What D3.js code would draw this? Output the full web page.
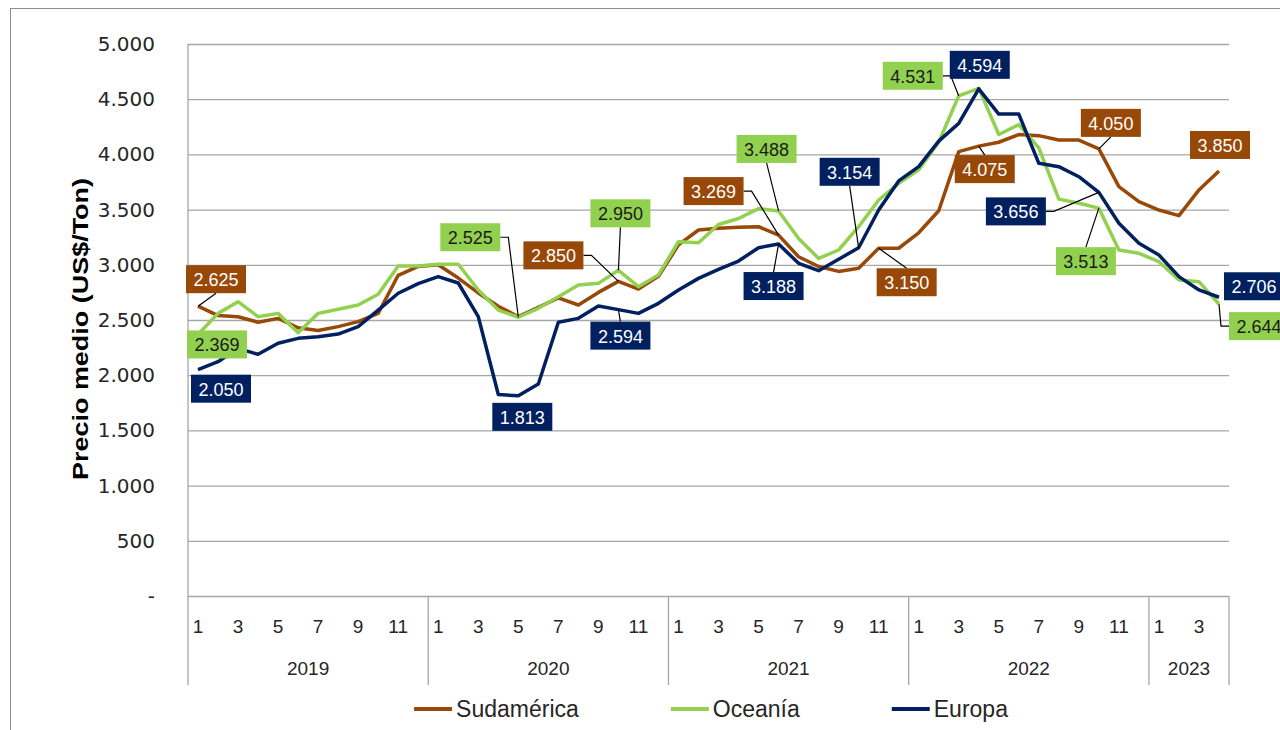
<!DOCTYPE html>
<html>
<head>
<meta charset="utf-8">
<script src="https://cdn.jsdelivr.net/npm/d3@7"></script>
<style>
body { margin: 0; background: #fff; }
</style>
</head>
<body>
<script>
// data
var years = [2019, 2020, 2021, 2022, 2023];
var monthsPerYear = [12, 12, 12, 12, 4];
var seriesNames = ["Sudamérica", "Oceanía", "Europa"];
var seriesColors = ["#984807", "#92D050", "#002060"];
var labelTextColors = ["#ffffff", "#1a1a1a", "#ffffff"];

var sudamerica = [2625, 2540, 2530, 2480, 2515, 2430, 2405, 2440, 2485, 2560, 2905, 2985,
                  3000, 2880, 2745, 2625, 2530, 2615, 2700, 2636, 2750, 2850, 2780, 2895,
                  3180, 3315, 3330, 3340, 3345, 3269, 3073, 2985, 2940, 2968, 3150, 3150,
                  3290, 3490, 4025, 4075, 4110, 4180, 4170, 4130, 4130, 4050, 3708, 3572,
                  3496, 3445, 3678, 3850];
var oceania = [2369, 2560, 2666, 2530, 2560, 2385, 2560, 2597, 2636, 2733, 2990, 2990,
               3005, 3005, 2772, 2590, 2525, 2606, 2710, 2817, 2832, 2950, 2802, 2908,
               3209, 3200, 3365, 3419, 3509, 3488, 3239, 3058, 3134, 3345, 3587, 3738,
               3860, 4110, 4531, 4598, 4180, 4270, 4060, 3595, 3557, 3513, 3134, 3104,
               3028, 2862, 2847, 2644];
var europa = [2050, 2122, 2243, 2189, 2289, 2334, 2349, 2373, 2440, 2590, 2742, 2830,
              2893, 2835, 2530, 1825, 1813, 1920, 2480, 2515, 2627, 2594, 2560, 2651,
              2772, 2877, 2959, 3034, 3155, 3188, 3013, 2947, 3050, 3154, 3496, 3760,
              3889, 4120, 4281, 4594, 4365, 4365, 3919, 3889, 3798, 3656, 3376, 3195,
              3089, 2893, 2772, 2706];
var seriesData = [sudamerica, oceania, europa];
var yTicks = d3.range(0, 5001, 500);

// data labels: series index, point index, box offset from point, leader line
var annotations = [
    {s: 0, i: 0,  dx: 18,  dy: -27, leader: true},
    {s: 1, i: 0,  dx: 19,  dy: 10,  leader: false},
    {s: 2, i: 0,  dx: 23,  dy: 19,  leader: false},
    {s: 1, i: 16, dx: -48, dy: -80, leader: true},
    {s: 2, i: 16, dx: 4,   dy: 21,  leader: false},
    {s: 0, i: 21, dx: -65, dy: -26, leader: true},
    {s: 1, i: 21, dx: 2,   dy: -57, leader: true},
    {s: 2, i: 21, dx: 2,   dy: 26,  leader: true},
    {s: 1, i: 29, dx: -12, dy: -62, leader: true},
    {s: 0, i: 29, dx: -65, dy: -44, leader: true},
    {s: 2, i: 29, dx: -5,  dy: 42,  leader: true},
    {s: 2, i: 33, dx: -9,  dy: -76, leader: true},
    {s: 0, i: 34, dx: 28,  dy: 34,  leader: true},
    {s: 1, i: 38, dx: -46, dy: -20, leader: true},
    {s: 2, i: 39, dx: 1,   dy: -24, leader: false},
    {s: 0, i: 39, dx: 6,   dy: 23,  leader: true},
    {s: 0, i: 45, dx: 12,  dy: -26, leader: true},
    {s: 0, i: 51, dx: 1,   dy: -26, leader: false},
    {s: 2, i: 45, dx: -83, dy: 19,  leader: true},
    {s: 1, i: 45, dx: -13, dy: 53,  leader: true},
    {s: 2, i: 51, dx: 35,  dy: -11, leader: false},
    {s: 1, i: 51, dx: 40,  dy: 22,  leader: true}
];

var categories = [];
years.forEach((yr, k) => {
    for (var m = 1; m <= monthsPerYear[k]; m++) categories.push({year: yr, month: m});
});

var fmt = d3.formatLocale({decimal: ",", thousands: ".", grouping: [3], currency: ["$", ""]}).format(",.0f");

var plotL = 188, plotR = 1229, plotT = 44, plotB = 596;
var axisFont = "'Liberation Sans', Arial, sans-serif";

var svg = d3.select("body").append("svg")
            .attr("width", 1280)
            .attr("height", 730)
            .style("display", "block");

svg.append("rect")
    .attr("x", 10.5).attr("y", 8.5)
    .attr("width", 1300).attr("height", 760)
    .attr("fill", "#fff")
    .attr("stroke", "#8c8c8c");

var x = d3.scaleBand().domain(d3.range(categories.length)).range([plotL, plotR]);
var cx = (i) => x(i) + x.bandwidth() / 2;
var y = d3.scaleLinear().domain([0, 5000]).range([plotB, plotT]);

// gridlines and y labels
var gy = svg.append("g")
            .attr("transform", "translate(" + plotL + ",0)")
            .call(d3.axisLeft(y)
                .tickValues(yTicks)
                .tickSize(-(plotR - plotL))
                .tickPadding(33)
                .tickFormat(v => v === 0 ? "-" : fmt(v)));
gy.select(".domain").remove();
gy.selectAll(".tick line").attr("stroke", "#a6a6a6").attr("stroke-width", 1.3);
gy.selectAll(".tick text")
    .attr("fill", "#262626")
    .style("font-family", "'DejaVu Sans', Verdana, sans-serif")
    .style("font-size", "20px");

svg.append("line")
    .attr("x1", plotL).attr("x2", plotL)
    .attr("y1", plotT).attr("y2", plotB)
    .attr("stroke", "#a6a6a6").attr("stroke-width", 1.3);

svg.append("text")
    .attr("transform", "translate(80," + ((plotT + plotB) / 2 + 9) + ") rotate(-90)")
    .attr("text-anchor", "middle")
    .attr("dominant-baseline", "central")
    .attr("textLength", 302)
    .attr("lengthAdjust", "spacingAndGlyphs")
    .style("font-family", axisFont)
    .style("font-weight", "bold")
    .style("font-size", "22px")
    .attr("fill", "#000")
    .text("Precio medio (US$/Ton)");

// multi-level category axis
var gx = svg.append("g");
gx.selectAll("text.month")
    .data(categories.filter((d, i) => i % 2 === 0))
    .enter().append("text")
    .attr("class", "month")
    .attr("x", d => cx(categories.indexOf(d)))
    .attr("y", 626)
    .attr("text-anchor", "middle")
    .attr("dominant-baseline", "central")
    .style("font-family", axisFont)
    .style("font-size", "19px")
    .attr("fill", "#262626")
    .text(d => d.month);

var start = 0;
years.forEach((yr, k) => {
    var x0 = x(start);
    var x1 = x(start + monthsPerYear[k] - 1) + x.bandwidth();
    gx.append("line")
        .attr("x1", x0).attr("x2", x0)
        .attr("y1", plotB).attr("y2", 685)
        .attr("stroke", "#a6a6a6").attr("stroke-width", 1.3);
    gx.append("text")
        .attr("x", (x0 + x1) / 2)
        .attr("y", 668)
        .attr("text-anchor", "middle")
        .attr("dominant-baseline", "central")
        .style("font-family", axisFont)
        .style("font-size", "19px")
        .attr("fill", "#262626")
        .text(yr);
    start += monthsPerYear[k];
});
gx.append("line")
    .attr("x1", plotR).attr("x2", plotR)
    .attr("y1", plotB).attr("y2", 685)
    .attr("stroke", "#a6a6a6").attr("stroke-width", 1.3);

// series lines
var line = d3.line().x((d, i) => cx(i)).y(d => y(d));
seriesData.forEach((s, k) => {
    svg.append("path")
        .datum(s)
        .attr("d", line)
        .attr("fill", "none")
        .attr("stroke", seriesColors[k])
        .attr("stroke-width", 3.5)
        .attr("stroke-linejoin", "round");
});

// data labels
var boxW = 60, boxH = 28;
var gl = svg.append("g");
annotations.forEach(a => {
    var px = cx(a.i), py = y(seriesData[a.s][a.i]);
    var bx = px + a.dx, by = py + a.dy;
    if (a.leader) {
        var pts;
        if (px > bx + boxW / 2) pts = [[bx + boxW / 2, by], [bx + boxW / 2 + 8, by], [px, py]];
        else if (px < bx - boxW / 2) pts = [[bx - boxW / 2, by], [bx - boxW / 2 - 8, by], [px, py]];
        else if (py < by) pts = [[bx, by - boxH / 2], [px, py]];
        else pts = [[bx, by + boxH / 2], [px, py]];
        gl.append("path")
            .attr("d", d3.line()(pts))
            .attr("fill", "none")
            .attr("stroke", "#000")
            .attr("stroke-width", 1.2);
    }
    gl.append("rect")
        .attr("x", bx - boxW / 2).attr("y", by - boxH / 2)
        .attr("width", boxW).attr("height", boxH)
        .attr("fill", seriesColors[a.s]);
    gl.append("text")
        .attr("x", bx).attr("y", by + 1)
        .attr("text-anchor", "middle")
        .attr("dominant-baseline", "central")
        .style("font-family", axisFont)
        .style("font-size", "18px")
        .attr("fill", labelTextColors[a.s])
        .text(fmt(seriesData[a.s][a.i]));
});

// legend
var legend = svg.append("g");
var lx = 0;
seriesNames.forEach((name, k) => {
    var item = legend.append("g").attr("transform", "translate(" + lx + ",0)");
    item.append("line")
        .attr("x1", 0).attr("x2", 38)
        .attr("y1", 0).attr("y2", 0)
        .attr("stroke", seriesColors[k]).attr("stroke-width", 4);
    var t = item.append("text")
        .attr("x", 42).attr("y", 0)
        .attr("dominant-baseline", "central")
        .style("font-family", axisFont)
        .style("font-size", "23px")
        .attr("fill", "#262626")
        .text(name);
    lx += 42 + t.node().getComputedTextLength() + 92;
});
var legendW = lx - 92;
legend.attr("transform", "translate(" + (711 - legendW / 2) + ",709)");
</script>
</body>
</html>
